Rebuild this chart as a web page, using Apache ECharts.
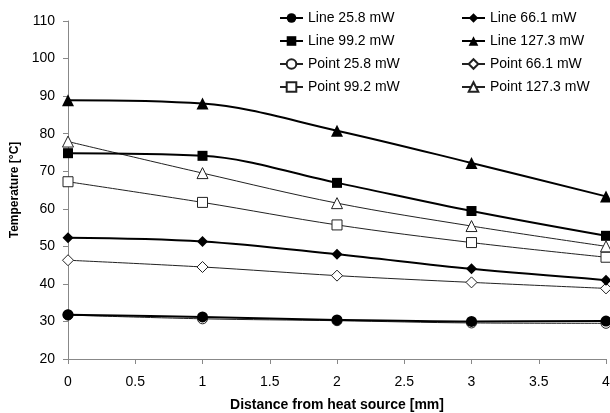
<!DOCTYPE html>
<html>
<head>
<meta charset="utf-8">
<script src="https://cdn.jsdelivr.net/npm/echarts@6/dist/echarts.min.js"></script>
<style>
html, body { margin: 0; padding: 0; background: #fff; }
#chart { width: 610px; height: 413px; }
</style>
</head>
<body>
<div id="chart"></div>
<script>
var distance = [0, 1, 2, 3, 4];
var xTicks = [0, 0.5, 1, 1.5, 2, 2.5, 3, 3.5, 4];

var line258 = [31.8, 31.2, 30.4, 30.0, 30.1];
var line661 = [52.3, 51.3, 47.9, 44.0, 41.0];
var line992 = [74.8, 74.1, 66.9, 59.4, 52.8];
var line1273 = [88.9, 88.0, 80.8, 72.2, 63.3];
var point258 = [31.7, 30.7, 30.2, 29.6, 29.5];
var point661 = [46.3, 44.5, 42.2, 40.4, 38.8];
var point992 = [67.2, 61.7, 55.7, 51.0, 47.1];
var point1273 = [77.9, 69.5, 61.5, 55.4, 50.0];

var font = 'Liberation Sans, Arial, sans-serif';

function pairs(arr) {
	return arr.map(function(v, i) { return [distance[i], v]; });
}

function lineSeries(name, data, symbol, size) {
	return {
		name: name,
		type: 'line',
		smooth: 0.35,
		data: pairs(data),
		symbol: symbol,
		symbolSize: size,
		z: 3,
		lineStyle: { color: '#000', width: 2 },
		itemStyle: { color: '#000', borderColor: '#000', borderWidth: 0 }
	};
}

function pointSeries(name, data, symbol, size) {
	return {
		name: name,
		type: 'line',
		smooth: 0.35,
		data: pairs(data),
		symbol: symbol,
		symbolSize: size,
		z: 2,
		lineStyle: { color: '#222', width: 1 },
		itemStyle: { color: '#fff', borderColor: '#222', borderWidth: 1 }
	};
}

var legendText = { fontFamily: font, fontSize: 14, color: '#000' };

var myChart = echarts.init(document.getElementById('chart'));
var option = {
	animation: false,
	backgroundColor: '#fff',
	grid: { left: 68, right: 4, top: 21, bottom: 54, outerBoundsMode: 'none' },
	legend: [{
		left: 274,
		top: 6,
		orient: 'vertical',
		itemGap: 9,
		itemWidth: 23,
		itemHeight: 12,
		textStyle: legendText,
		data: ['Line 25.8 mW', 'Line 99.2 mW', 'Point 25.8 mW', 'Point 99.2 mW']
	}, {
		left: 456,
		top: 6,
		orient: 'vertical',
		itemGap: 9,
		itemWidth: 23,
		itemHeight: 12,
		textStyle: legendText,
		data: ['Line 66.1 mW', 'Line 127.3 mW', 'Point 66.1 mW', 'Point 127.3 mW']
	}],
	xAxis: {
		type: 'value',
		min: 0,
		max: 4,
		interval: 0.5,
		name: 'Distance from heat source [mm]',
		nameLocation: 'middle',
		nameGap: 39,
		nameTextStyle: { fontFamily: font, fontSize: 14, fontWeight: 'bold', color: '#000' },
		axisLine: { lineStyle: { color: '#888', width: 1 } },
		axisTick: { length: 5, lineStyle: { color: '#888' } },
		axisLabel: {
			fontFamily: font, fontSize: 14, color: '#000', margin: 16,
			formatter: function(v) { return xTicks.indexOf(v) >= 0 ? String(v) : ''; }
		},
		splitLine: { show: false }
	},
	yAxis: {
		type: 'value',
		min: 20,
		max: 110,
		interval: 10,
		name: 'Temperature [°C]',
		nameLocation: 'middle',
		nameGap: 40,
		nameTextStyle: { fontFamily: font, fontSize: 12, fontWeight: 'bold', color: '#000' },
		axisLine: { show: true, lineStyle: { color: '#888', width: 1 } },
		axisTick: { show: true, length: 5, lineStyle: { color: '#888' } },
		axisLabel: { fontFamily: font, fontSize: 14, color: '#000', margin: 13 },
		splitLine: { show: false }
	},
	series: [
		pointSeries('Point 25.8 mW', point258, 'circle', 10),
		pointSeries('Point 66.1 mW', point661, 'diamond', 11),
		pointSeries('Point 99.2 mW', point992, 'rect', 10),
		pointSeries('Point 127.3 mW', point1273, 'triangle', 11),
		lineSeries('Line 25.8 mW', line258, 'circle', 11),
		lineSeries('Line 66.1 mW', line661, 'diamond', 11),
		lineSeries('Line 99.2 mW', line992, 'rect', 10),
		lineSeries('Line 127.3 mW', line1273, 'triangle', 12)
	]
};
myChart.setOption(option);
</script>
</body>
</html>
